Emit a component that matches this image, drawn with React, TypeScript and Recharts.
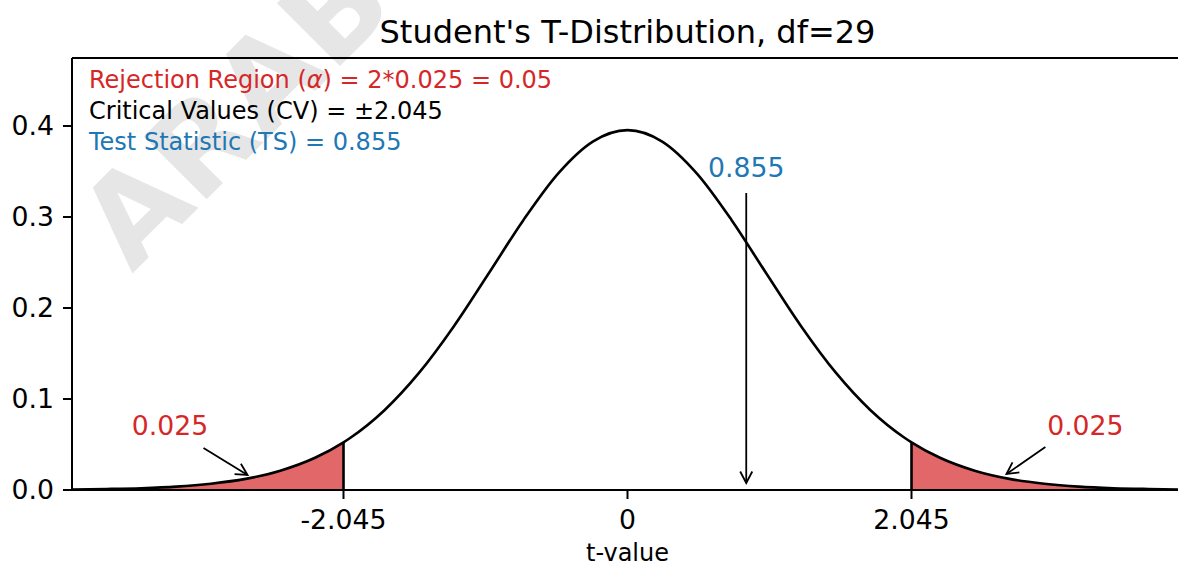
import {
  ComposedChart,
  Area,
  Line,
  XAxis,
  YAxis,
  ReferenceLine,
  ReferenceDot,
} from 'recharts'

// t grid and density (df = 29)
const tValues = [
  -4, -3.75, -3.5, -3.25, -3, -2.75, -2.5, -2.25, -2.045, -2, -1.75, -1.5, -1.25, -1, -0.75, -0.5,
  -0.25, 0, 0.25, 0.5, 0.75, 1, 1.25, 1.5, 1.75, 2, 2.045, 2.25, 2.5, 2.75, 3, 3.25, 3.5, 3.75, 4,
]
const density = [
  0.0005, 0.0011, 0.002, 0.0037, 0.0069, 0.0122, 0.0212, 0.0354, 0.0524, 0.0569, 0.0877, 0.1289,
  0.18, 0.2379, 0.2965, 0.3477, 0.3829, 0.3955, 0.3829, 0.3477, 0.2965, 0.2379, 0.18, 0.1289,
  0.0877, 0.0569, 0.0524, 0.0354, 0.0212, 0.0122, 0.0069, 0.0037, 0.002, 0.0011, 0.0005,
]

const xTicks = [-2.045, 0, 2.045]
const xTickLabels = ['-2.045', '0', '2.045']
const yTicks = [0, 0.1, 0.2, 0.3, 0.4]

const CRIT = 2.045
const CRIT_PDF = 0.0524
const TS = 0.855
const Y_MAX = 0.4747

// annotation arrows: [x, y] from -> to, in data units
const tailArrows = [
  { from: [-3.053, 0.0462], to: [-2.736, 0.0165] },
  { from: [3.009, 0.0473], to: [2.729, 0.0176] },
]
const tsArrow = { from: [TS, 0.3264], to: [TS, 0.0077] }

const tailLabels = [
  { x: -3.294, y: 0.0604, text: '0.025' },
  { x: 3.297, y: 0.0604, text: '0.025' },
]
const tsLabel = { x: TS, y: 0.344, text: '0.855' }

const RED = '#d62728'
const BLUE = '#1f77b4'
const FILL = '#e26768'
const FONT = "'DejaVu Sans', sans-serif"

const rows = tValues.map((t, i) => ({
  t,
  pdf: density[i],
  tail: Math.abs(t) >= CRIT ? density[i] : null,
}))

function Arrow(props: any) {
  const { x1, y1, x2, y2 } = props
  const ang = Math.atan2(y2 - y1, x2 - x1)
  const len = 13
  const spread = Math.PI / 6.5
  const ax = x2 - len * Math.cos(ang - spread)
  const ay = y2 - len * Math.sin(ang - spread)
  const bx = x2 - len * Math.cos(ang + spread)
  const by = y2 - len * Math.sin(ang + spread)
  return (
    <g stroke="#000" strokeWidth={1.8} fill="none">
      <line x1={x1} y1={y1} x2={x2} y2={y2} />
      <polyline points={`${ax},${ay} ${x2},${y2} ${bx},${by}`} />
    </g>
  )
}

function textShape(text: string, color: string) {
  return (p: any) => (
    <text
      x={p.cx}
      y={p.cy}
      textAnchor="middle"
      fill={color}
      fontSize={26.7}
      fontFamily={FONT}
    >
      {text}
    </text>
  )
}

export default function App() {
  return (
    <div
      style={{
        position: 'fixed',
        left: 0,
        top: 0,
        width: 1178,
        height: 566,
        overflow: 'hidden',
        background: '#fff',
        fontFamily: FONT,
      }}
    >
      <svg width={1178} height={566} style={{ position: 'absolute', left: 0, top: 0 }}>
        <text
          x={132}
          y={274}
          transform="rotate(-45 132 274)"
          fontSize={122}
          fontWeight="bold"
          fill="#e6e6e6"
          fontFamily={FONT}
        >
          ARAB
        </text>
      </svg>

      <div style={{ position: 'absolute', left: 0, top: 0 }}>
        <ComposedChart
          width={1190}
          height={566}
          data={rows}
          margin={{ top: 58, right: 7, bottom: 0, left: 0 }}
        >
          <XAxis
            dataKey="t"
            type="number"
            domain={[-4, 4]}
            ticks={xTicks}
            interval={0}
            tickFormatter={(v: number) => xTickLabels[xTicks.indexOf(v)] ?? String(v)}
            height={76}
            tickSize={9}
            tickMargin={11}
            tick={{ fill: '#000', fontSize: 26.7, fontFamily: FONT }}
            axisLine={{ stroke: '#000', strokeWidth: 2 }}
            tickLine={{ stroke: '#000', strokeWidth: 2 }}
            label={{
              value: 't-value',
              position: 'insideBottom',
              offset: 5,
              fill: '#000',
              fontSize: 24,
              fontFamily: FONT,
            }}
          />
          <YAxis
            type="number"
            domain={[0, Y_MAX]}
            ticks={yTicks}
            interval={0}
            tickFormatter={(v: number) => v.toFixed(1)}
            width={72}
            tickSize={9}
            tickMargin={9}
            tick={{ fill: '#000', fontSize: 26.7, fontFamily: FONT }}
            axisLine={{ stroke: '#000', strokeWidth: 2 }}
            tickLine={{ stroke: '#000', strokeWidth: 2 }}
          />
          <ReferenceLine y={Y_MAX} stroke="#000" strokeWidth={2} />
          <Area
            dataKey="tail"
            type="monotone"
            stroke="none"
            fill={FILL}
            fillOpacity={1}
            connectNulls={false}
            isAnimationActive={false}
            dot={false}
            activeDot={false}
          />
          <Line
            dataKey="pdf"
            type="monotone"
            stroke="#000"
            strokeWidth={2.6}
            dot={false}
            activeDot={false}
            isAnimationActive={false}
          />
          <ReferenceLine
            segment={[
              { x: -CRIT, y: 0 },
              { x: -CRIT, y: CRIT_PDF },
            ]}
            stroke="#000"
            strokeWidth={2.6}
          />
          <ReferenceLine
            segment={[
              { x: CRIT, y: 0 },
              { x: CRIT, y: CRIT_PDF },
            ]}
            stroke="#000"
            strokeWidth={2.6}
          />
          {tailArrows.map((a, i) => (
            <ReferenceLine
              key={`ta${i}`}
              segment={[
                { x: a.from[0], y: a.from[1] },
                { x: a.to[0], y: a.to[1] },
              ]}
              shape={Arrow}
            />
          ))}
          <ReferenceLine
            segment={[
              { x: tsArrow.from[0], y: tsArrow.from[1] },
              { x: tsArrow.to[0], y: tsArrow.to[1] },
            ]}
            shape={Arrow}
          />
          {tailLabels.map((l, i) => (
            <ReferenceDot key={`tl${i}`} x={l.x} y={l.y} r={0} shape={textShape(l.text, RED)} />
          ))}
          <ReferenceDot x={tsLabel.x} y={tsLabel.y} r={0} shape={textShape(tsLabel.text, BLUE)} />
        </ComposedChart>
      </div>

      <svg
        width={1178}
        height={566}
        style={{ position: 'absolute', left: 0, top: 0, pointerEvents: 'none' }}
        fontFamily={FONT}
      >
        <text x={627.5} y={43} textAnchor="middle" fontSize={32} fill="#000">
          Student's T-Distribution, df=29
        </text>
        <text x={89} y={88} fontSize={24} fill={RED}>
          Rejection Region (<tspan fontStyle="italic">α</tspan>) = 2*0.025 = 0.05
        </text>
        <text x={89} y={119} fontSize={24} fill="#000">
          Critical Values (CV) = ±2.045
        </text>
        <text x={89} y={150} fontSize={24} fill={BLUE}>
          Test Statistic (TS) = 0.855
        </text>
      </svg>
    </div>
  )
}
